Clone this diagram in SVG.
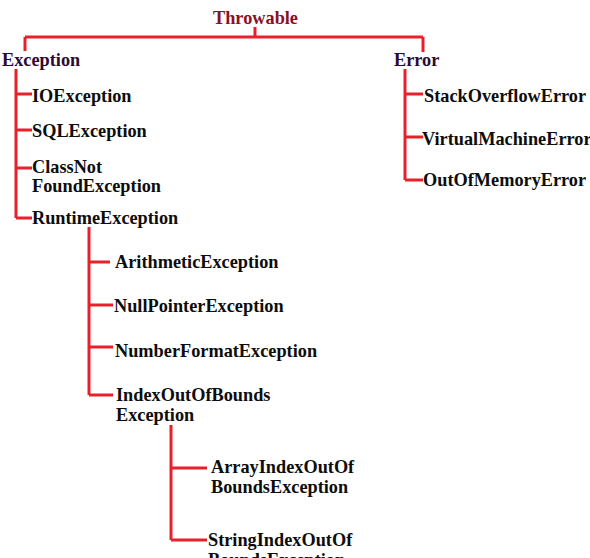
<svg xmlns="http://www.w3.org/2000/svg" width="590" height="558" viewBox="0 0 590 558">
<style>
text{font-family:"Liberation Serif","Times New Roman",serif;font-weight:bold;font-size:18.3px;fill:#0d0d0d}
.root{fill:#8b1024}
.cat{fill:#2a0b33}
#connectors path{fill:none;stroke:#e8202c;stroke-width:3}
</style>
<rect width="590" height="558" fill="#fff"/>
<g id="connectors">
<path d="M255,27V37M25,37H423M25,37V51M423,37V52"/>
<path d="M16,69V218M16,94H32M16,130H32M16,168H32M16,218H32"/>
<path d="M405,69V180M405,94H423M405,137H423M405,180H423"/>
<path d="M89,227V395M89,262H110M89,305H113M89,347H113M89,395H113"/>
<path d="M171,425V540M171,468H207M171,540H207"/>
</g>
<g id="throwable"><text class="root" x="213" y="24">Throwable</text></g>
<g id="exception"><text class="cat" x="2" y="66">Exception</text></g>
<g id="error"><text class="cat" x="394" y="66">Error</text></g>
<g id="ioexception"><text x="32" y="102">IOException</text></g>
<g id="sqlexception"><text x="32" y="137">SQLException</text></g>
<g id="classnotfound"><text x="32" y="173">ClassNot</text><text x="32" y="192">FoundException</text></g>
<g id="runtime"><text x="32" y="224">RuntimeException</text></g>
<g id="stackoverflow"><text x="424" y="102">StackOverflowError</text></g>
<g id="virtualmachine"><text x="422" y="145">VirtualMachineError</text></g>
<g id="outofmemory"><text x="423" y="186">OutOfMemoryError</text></g>
<g id="arithmetic"><text x="115" y="268">ArithmeticException</text></g>
<g id="nullpointer"><text x="114" y="312">NullPointerException</text></g>
<g id="numberformat"><text x="115" y="357">NumberFormatException</text></g>
<g id="indexoutofbounds"><text x="116" y="401">IndexOutOfBounds</text><text x="116" y="421">Exception</text></g>
<g id="arrayindex"><text x="211" y="473">ArrayIndexOutOf</text><text x="211" y="493">BoundsException</text></g>
<g id="stringindex"><text x="208" y="546">StringIndexOutOf</text><text x="208" y="566">BoundsException</text></g>
</svg>
